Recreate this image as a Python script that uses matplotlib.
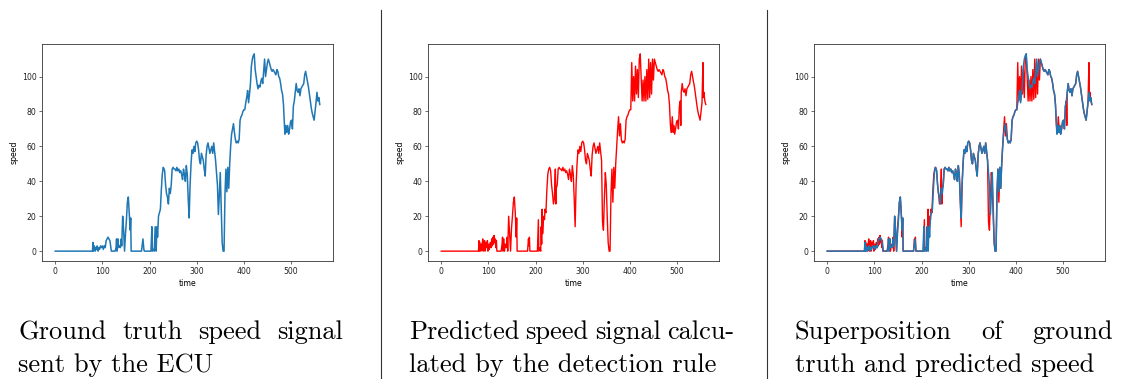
import numpy as np
import matplotlib
matplotlib.use('Agg')
import matplotlib.pyplot as plt
from matplotlib.lines import Line2D


### Data (time, speed)
truth_t = [0, 79, 80, 81, 83, 85, 86, 88, 89, 91, 92, 94, 96, 98, 100, 102, 104, 106, 108, 110,
           112, 114, 116, 118, 119, 127, 129, 130, 131, 133, 134, 136, 138, 140, 141, 143, 145, 147, 149, 151,
           153, 155, 157, 159, 160, 161, 183, 186, 188, 189, 203, 205, 206, 208, 210, 212, 214, 215, 216, 217,
           219, 221, 223, 225, 227, 229, 231, 232, 234, 236, 238, 240, 242, 244, 246, 248, 250, 252, 254, 256,
           258, 260, 262, 264, 266, 268, 270, 272, 274, 276, 278, 280, 282, 284, 286, 288, 290, 292, 294, 296,
           298, 300, 302, 304, 306, 308, 310, 312, 314, 316, 318, 320, 322, 324, 326, 328, 330, 332, 334, 336,
           338, 340, 342, 344, 346, 348, 350, 352, 354, 356, 358, 360, 362, 364, 366, 368, 370, 372, 374, 376,
           378, 380, 382, 384, 386, 388, 390, 392, 394, 396, 398, 400, 402, 404, 406, 408, 410, 412, 414, 416,
           418, 420, 422, 424, 426, 428, 430, 432, 434, 436, 438, 440, 442, 444, 446, 448, 450, 452, 454, 456,
           458, 460, 462, 464, 466, 468, 470, 472, 474, 476, 478, 480, 482, 484, 486, 487, 489, 491, 493, 495,
           497, 499, 501, 503, 505, 507, 509, 511, 513, 515, 517, 519, 521, 523, 525, 527, 529, 531, 533, 535,
           537, 539, 541, 543, 545, 547, 549, 551, 553, 555, 557, 559, 561]
truth_v = [0, 0, 5, 0, 3, 0, 2, 1, 3, 0, 2, 1, 3, 2, 3, 1, 3, 2, 6, 7,
           8, 7, 6, 2, 0, 0, 2, 7, 0, 7, 2, 3, 2, 7, 3, 20, 12, 0, 10, 18,
           28, 31, 22, 12, 19, 0, 0, 7, 1, 0, 0, 14, 0, 1, 0, 14, 0, 8, 14, 8,
           20, 22, 24, 35, 44, 48, 47, 46, 38, 33, 31, 27, 36, 33, 38, 47, 48, 47, 47, 46,
           48, 46, 47, 45, 46, 44, 41, 47, 44, 40, 49, 44, 30, 19, 38, 50, 58, 56, 60, 57,
           62, 63, 62, 58, 52, 50, 56, 54, 52, 47, 43, 55, 60, 62, 59, 56, 58, 60, 56, 62,
           57, 52, 45, 38, 21, 32, 45, 25, 5, 0, 0, 33, 47, 34, 48, 36, 50, 60, 67, 70,
           73, 68, 64, 62, 63, 62, 64, 75, 77, 78, 80, 81, 81, 85, 88, 92, 85, 90, 96, 106,
           110, 112, 113, 104, 100, 96, 93, 95, 94, 97, 99, 96, 103, 110, 100, 104, 108, 110, 108, 106,
           104, 103, 104, 103, 102, 101, 104, 103, 100, 99, 96, 92, 90, 84, 72, 67, 72, 68, 72, 67,
           70, 74, 75, 70, 83, 86, 91, 96, 92, 91, 93, 89, 93, 94, 95, 96, 101, 103, 100, 97,
           94, 90, 86, 82, 79, 77, 75, 80, 85, 91, 86, 88, 84]

pred_t = [0, 79, 80, 81, 82, 84, 85, 86, 88, 89, 90, 92, 93, 95, 96, 98, 99, 101, 102, 104,
          106, 107, 108, 110, 111, 112, 113, 115, 116, 117, 118, 127, 129, 130, 131, 133, 134, 136, 138, 140,
          141, 143, 145, 147, 149, 151, 153, 155, 157, 159, 160, 161, 183, 185, 186, 187, 188, 204, 206, 207,
          209, 211, 212, 213, 214, 215, 217, 219, 220, 222, 224, 226, 228, 230, 232, 234, 236, 238, 240, 242,
          243, 244, 246, 248, 250, 252, 254, 256, 258, 260, 262, 264, 266, 268, 270, 272, 274, 276, 278, 280,
          282, 284, 286, 288, 290, 292, 294, 296, 298, 300, 302, 304, 306, 308, 310, 312, 314, 316, 318, 320,
          322, 324, 326, 328, 330, 332, 334, 336, 338, 340, 342, 344, 346, 348, 350, 352, 354, 356, 358, 360,
          362, 364, 366, 368, 370, 372, 374, 376, 378, 380, 382, 384, 386, 388, 390, 392, 394, 396, 398, 400,
          402, 404, 406, 408, 410, 412, 414, 416, 418, 420, 422, 424, 426, 428, 430, 432, 434, 436, 438, 440,
          442, 444, 446, 448, 450, 452, 454, 456, 458, 460, 462, 464, 466, 468, 470, 472, 474, 476, 478, 480,
          482, 484, 486, 488, 490, 492, 493, 495, 497, 499, 501, 503, 505, 507, 508, 509, 511, 513, 515, 517,
          519, 521, 523, 525, 527, 529, 531, 533, 535, 537, 539, 541, 543, 545, 547, 549, 551, 553, 555, 556,
          557, 559, 561]
pred_v = [0, 0, 6, 0, 5, 0, 4, 1, 7, 0, 3, 6, 0, 5, 2, 6, 0, 4, 1, 5,
          2, 7, 3, 8, 4, 9, 5, 7, 2, 6, 0, 0, 4, 8, 0, 7, 0, 4, 2, 8,
          0, 20, 10, 0, 13, 20, 28, 31, 22, 8, 19, 0, 0, 7, 3, 8, 0, 0, 18, 0,
          2, 0, 14, 4, 24, 10, 20, 18, 24, 22, 35, 44, 47, 48, 46, 38, 33, 27, 30, 47,
          27, 36, 38, 47, 48, 47, 47, 46, 48, 46, 47, 45, 46, 44, 41, 47, 44, 40, 49, 44,
          30, 14, 38, 50, 58, 56, 60, 57, 62, 63, 62, 58, 52, 50, 56, 54, 52, 47, 43, 55,
          60, 62, 59, 56, 58, 60, 56, 62, 57, 52, 17, 12, 30, 45, 38, 20, 5, 0, 0, 33,
          47, 28, 48, 36, 50, 60, 69, 77, 66, 73, 64, 62, 63, 62, 64, 75, 77, 78, 80, 81,
          81, 108, 86, 100, 86, 106, 90, 104, 88, 110, 113, 100, 86, 98, 86, 100, 86, 104, 87, 110,
          88, 108, 90, 110, 98, 110, 108, 106, 104, 103, 104, 103, 102, 101, 104, 103, 100, 99, 96, 92,
          90, 84, 72, 68, 77, 68, 72, 67, 70, 74, 75, 70, 83, 86, 72, 91, 96, 92, 91, 93,
          89, 93, 94, 95, 96, 101, 103, 100, 97, 94, 90, 86, 82, 79, 77, 75, 80, 85, 108, 88,
          91, 86, 84]

captions = [
    ["Ground truth speed signal", "sent by the ECU"],
    ["Predicted speed signal calcu-", "lated by the detection rule"],
    ["Superposition of ground", "truth and predicted speed"],
]


### Styling (small, downscaled matplotlib look)
plt.rcParams.update({
    'font.size': 5.6,
    'axes.linewidth': 0.6,
    'axes.edgecolor': '#333333',
    'xtick.major.size': 2.0,
    'ytick.major.size': 2.0,
    'xtick.major.width': 0.5,
    'ytick.major.width': 0.5,
    'xtick.major.pad': 2.0,
    'ytick.major.pad': 2.0,
    'axes.labelpad': 2.2,
    'xtick.color': '#333333',
    'ytick.color': '#333333',
    'xtick.labelcolor': '#222222',
    'ytick.labelcolor': '#222222',
})

W, H = 1123, 379
fig = plt.figure(figsize=(W / 100, H / 100), dpi=100)

ax_left = [42, 428, 814]
ax_w, ax_top, ax_bot = 291, 44, 261
axes = []
for x0 in ax_left:
    ax = fig.add_axes([x0 / W, 1 - ax_bot / H, ax_w / W, (ax_bot - ax_top) / H])
    axes.append(ax)

axes[0].plot(truth_t, truth_v, color='#1f77b4', lw=1.1)
axes[1].plot(pred_t, pred_v, color='red', lw=1.0)
axes[2].plot(pred_t, pred_v, color='red', lw=1.0)
axes[2].plot(truth_t, truth_v, color='#1f77b4', lw=1.1)

for ax in axes:
    ax.set_xlabel('time')
    ax.set_ylabel('speed')
    ax.set_xticks([0, 100, 200, 300, 400, 500])
    ax.set_yticks([0, 20, 40, 60, 80, 100])


### Separators
for xs in [380.5, 766.5]:
    fig.add_artist(Line2D([xs / W, xs / W], [1 - 10 / H, 0], color='#333333', lw=0.8))


### Justified captions
cap_left = [18, 409, 795]
cap_width = [325, 325, 318]
baselines = [339, 372]
cap_font = dict(family='cmr10', size=19, color='black', va='baseline', ha='left')

renderer = fig.canvas.get_renderer()
for i, lines in enumerate(captions):
    for j, line in enumerate(lines):
        y = 1 - baselines[j] / H
        if j == len(lines) - 1:
            fig.text(cap_left[i] / W, y, line, **cap_font)
            continue
        words = line.split()
        arts = [fig.text(0, y, w, **cap_font) for w in words]
        widths = [a.get_window_extent(renderer).width for a in arts]
        gap = (cap_width[i] - sum(widths)) / (len(words) - 1)
        x = cap_left[i]
        for a, w in zip(arts, widths):
            a.set_x(x / W)
            x += w + gap

fig.savefig('out.png', dpi=100)
